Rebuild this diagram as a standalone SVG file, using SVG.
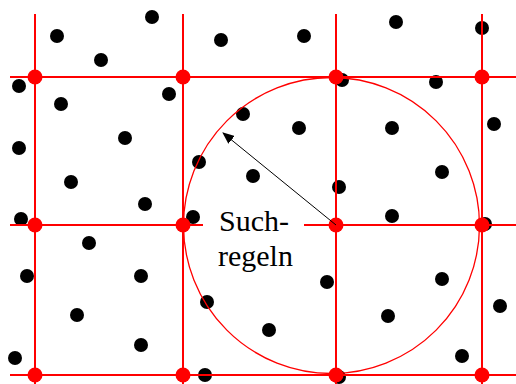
<svg xmlns="http://www.w3.org/2000/svg" width="516" height="384" viewBox="0 0 516 384">
<style>
.dot{fill:#000}
.grid{stroke:#ff0000;stroke-width:2;fill:none}
.node{fill:#ff0000}
.lbl{font-family:"Liberation Serif","Times New Roman",serif;font-size:30px;fill:#000}
</style>
<defs>
<marker id="ah" viewBox="0 0 12 10" refX="11" refY="5" markerWidth="12" markerHeight="10" markerUnits="userSpaceOnUse" orient="auto">
<path d="M0,0 L12,5 L0,10 Z" fill="#000"/>
</marker>
</defs>
<rect width="516" height="384" fill="#fff"/>
<g id="points">
<circle class="dot" cx="57" cy="36" r="7"/>
<circle class="dot" cx="152" cy="17" r="7"/>
<circle class="dot" cx="101" cy="60" r="7"/>
<circle class="dot" cx="221" cy="40" r="7"/>
<circle class="dot" cx="304" cy="36" r="7"/>
<circle class="dot" cx="396" cy="22" r="7"/>
<circle class="dot" cx="482" cy="28" r="7"/>
<circle class="dot" cx="19" cy="86" r="7"/>
<circle class="dot" cx="169" cy="94" r="7"/>
<circle class="dot" cx="342" cy="80" r="7"/>
<circle class="dot" cx="436" cy="82" r="7"/>
<circle class="dot" cx="61" cy="104" r="7"/>
<circle class="dot" cx="243" cy="114" r="7"/>
<circle class="dot" cx="494" cy="124" r="7"/>
<circle class="dot" cx="125" cy="138" r="7"/>
<circle class="dot" cx="299" cy="128" r="7"/>
<circle class="dot" cx="392" cy="128" r="7"/>
<circle class="dot" cx="19" cy="148" r="7"/>
<circle class="dot" cx="199" cy="162" r="7"/>
<circle class="dot" cx="442" cy="172" r="7"/>
<circle class="dot" cx="71" cy="182" r="7"/>
<circle class="dot" cx="253" cy="176" r="7"/>
<circle class="dot" cx="339" cy="187" r="7"/>
<circle class="dot" cx="145" cy="204" r="7"/>
<circle class="dot" cx="21" cy="219" r="7"/>
<circle class="dot" cx="193" cy="217" r="7"/>
<circle class="dot" cx="392" cy="216" r="7"/>
<circle class="dot" cx="485" cy="224" r="7"/>
<circle class="dot" cx="89" cy="243" r="7"/>
<circle class="dot" cx="27" cy="276" r="7"/>
<circle class="dot" cx="141" cy="276" r="7"/>
<circle class="dot" cx="442" cy="279" r="7"/>
<circle class="dot" cx="327" cy="282" r="7"/>
<circle class="dot" cx="207" cy="302" r="7"/>
<circle class="dot" cx="500" cy="306" r="7"/>
<circle class="dot" cx="77" cy="315" r="7"/>
<circle class="dot" cx="388" cy="316" r="7"/>
<circle class="dot" cx="269" cy="330" r="7"/>
<circle class="dot" cx="141" cy="345" r="7"/>
<circle class="dot" cx="462" cy="356" r="7"/>
<circle class="dot" cx="15" cy="358" r="7"/>
<circle class="dot" cx="205" cy="375" r="7"/>
<circle class="dot" cx="339" cy="377" r="7"/>
</g>
<g id="search-circle">
<circle cx="331.5" cy="225.5" r="148" fill="none" stroke="#ff0000" stroke-width="1.3"/>
</g>
<g id="grid">
<line class="grid" x1="35" y1="14" x2="35" y2="384"/>
<line class="grid" x1="183" y1="14" x2="183" y2="384"/>
<line class="grid" x1="336" y1="14" x2="336" y2="384"/>
<line class="grid" x1="482" y1="14" x2="482" y2="384"/>
<line class="grid" x1="10" y1="77" x2="516" y2="77"/>
<line class="grid" x1="10" y1="225" x2="203" y2="225"/>
<line class="grid" x1="304" y1="225" x2="516" y2="225"/>
<line class="grid" x1="10" y1="375" x2="516" y2="375"/>
</g>
<g id="grid-nodes">
<circle class="node" cx="35" cy="77" r="7.5"/>
<circle class="node" cx="183" cy="77" r="7.5"/>
<circle class="node" cx="336" cy="77" r="7.5"/>
<circle class="node" cx="482" cy="77" r="7.5"/>
<circle class="node" cx="35" cy="225" r="7.5"/>
<circle class="node" cx="183" cy="225" r="7.5"/>
<circle class="node" cx="336" cy="225" r="7.5"/>
<circle class="node" cx="482" cy="225" r="7.5"/>
<circle class="node" cx="35" cy="375" r="7.5"/>
<circle class="node" cx="183" cy="375" r="7.5"/>
<circle class="node" cx="336" cy="375" r="7.5"/>
<circle class="node" cx="482" cy="375" r="7.5"/>
</g>
<g id="connectors">
<line x1="336" y1="225" x2="223" y2="133" stroke="#000" stroke-width="1" marker-end="url(#ah)"/>
</g>
<g id="label">
<text class="lbl" x="219" y="231">Such-</text>
<text class="lbl" x="218" y="266">regeln</text>
</g>
</svg>
